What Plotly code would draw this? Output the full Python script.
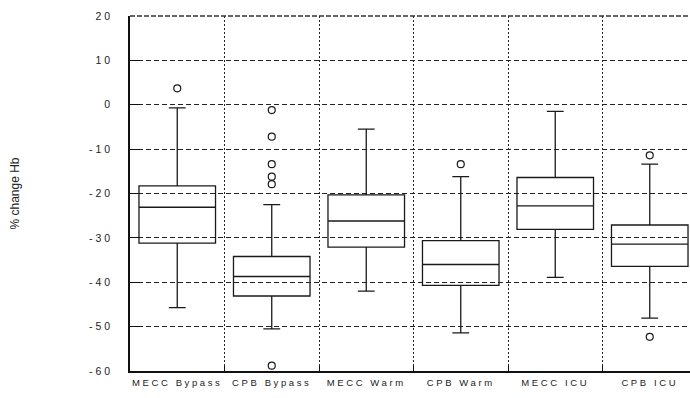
import plotly.graph_objects as go

categories = ["MECC Bypass", "CPB Bypass", "MECC Warm", "CPB Warm", "MECC ICU", "CPB ICU"]
lower_whisker = [-45.7, -50.5, -42.0, -51.4, -38.9, -48.1]
q1 = [-31.2, -43.1, -32.1, -40.7, -28.1, -36.4]
median = [-23.1, -38.7, -26.2, -36.0, -22.8, -31.4]
q3 = [-18.3, -34.2, -20.3, -30.6, -16.4, -27.1]
upper_whisker = [-0.7, -22.5, -5.5, -16.2, -1.5, -13.4]

outlier_cat = ["MECC Bypass", "CPB Bypass", "CPB Bypass", "CPB Bypass", "CPB Bypass",
               "CPB Bypass", "CPB Bypass", "CPB Warm", "CPB ICU", "CPB ICU"]
outlier_val = [3.7, -1.2, -7.2, -13.4, -16.2, -17.9, -58.8, -13.4, -11.4, -52.3]

y_tickvals = [20, 10, 0, -10, -20, -30, -40, -50, -60]
y_ticktext = ["20", "10", "0", "-10", "-20", "-30", "-40", "-50", "-60"]
y_title = "% change Hb"

fig = go.Figure()
fig.add_trace(go.Box(
    x=categories, q1=q1, median=median, q3=q3,
    lowerfence=lower_whisker, upperfence=upper_whisker,
    width=0.81, whiskerwidth=0.22,
    line=dict(color="#1a1a1a", width=1.3), fillcolor="rgba(255,255,255,0)",
    boxpoints=False, showlegend=False, hoverinfo="skip",
))
fig.add_trace(go.Scatter(
    x=outlier_cat, y=outlier_val, mode="markers",
    marker=dict(symbol="circle-open", size=7, color="#1a1a1a", line=dict(width=1.2)),
    showlegend=False, hoverinfo="skip",
))

# the original chart's plot area runs slightly past the right edge of the 690px picture
fig.update_layout(
    width=697, height=398,
    margin=dict(l=130, r=0, t=16, b=27),
    paper_bgcolor="white", plot_bgcolor="white",
    font=dict(family="Liberation Sans, Arial, sans-serif", color="#222"),
    xaxis=dict(
        type="category", categoryorder="array", categoryarray=categories,
        range=[-0.5, 5.5], tickson="boundaries",
        showgrid=True, gridcolor="#222", gridwidth=1, griddash="2px,2px",
        ticks="inside", ticklen=5, tickcolor="#111",
        showline=True, linecolor="#111", linewidth=1.5,
        tickfont=dict(size=9.5), ticklabelstandoff=2,
        zeroline=False,
    ),
    yaxis=dict(
        range=[-60, 20], tickvals=y_tickvals, ticktext=y_ticktext,
        showgrid=True, gridcolor="#222", gridwidth=1, griddash="5px,3px",
        ticks="inside", ticklen=10, tickcolor="#111",
        showline=True, linecolor="#111", linewidth=1.5,
        tickfont=dict(size=10.5), ticklabelstandoff=13,
        zeroline=False,
    ),
    shapes=[dict(type="line", xref="paper", yref="paper", x0=0, x1=1, y0=1, y1=1,
                 line=dict(color="#333", width=1.5, dash="5px,2px"))],
    annotations=[dict(text=y_title, xref="paper", yref="paper", x=(14 - 130) / 567, y=0.5,
                      textangle=-90, showarrow=False, xanchor="center", yanchor="middle",
                      font=dict(size=12, color="#222"))],
)

post = """
document.body.style.margin = '0';
document.body.style.overflow = 'hidden';
document.documentElement.style.overflow = 'hidden';
var gd = document.getElementById('{plot_id}');
function fixSpacing(){
  gd.querySelectorAll('.xtick text').forEach(function(t){ t.style.letterSpacing='2.6px'; });
  gd.querySelectorAll('.ytick text').forEach(function(t){ t.style.letterSpacing='3px'; });
}
fixSpacing();
gd.on('plotly_afterplot', fixSpacing);
"""
fig.write_html("out.html", post_script=post, config={"displayModeBar": False})
